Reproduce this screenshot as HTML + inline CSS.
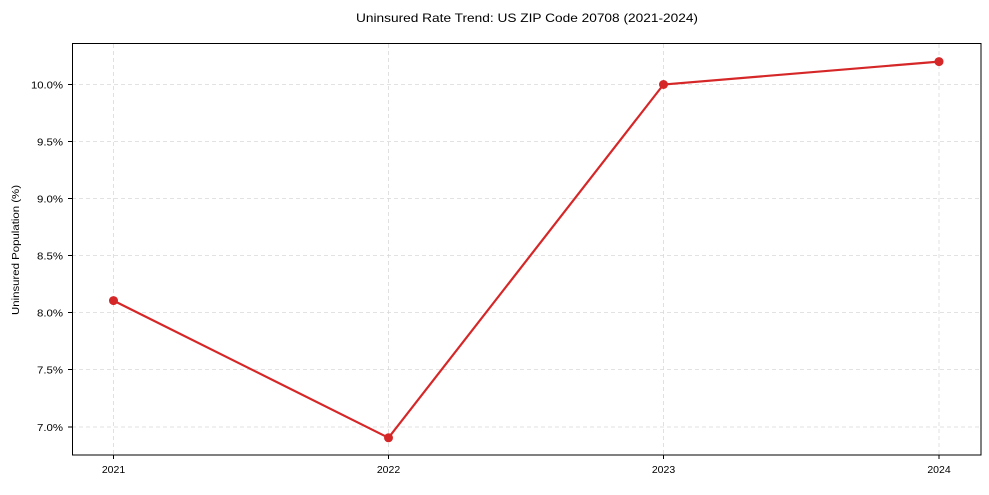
<!DOCTYPE html>
<html><head><style>
body{margin:0;background:#fff;}
svg text{font-family:"Liberation Sans",Arial,sans-serif;fill:#000;}
</style></head><body>
<svg width="989" height="490" xmlns="http://www.w3.org/2000/svg">
<rect width="989" height="490" fill="#fff"/>
<g stroke="#d9d9d9" stroke-width="0.8" stroke-dasharray="4,3">
<line x1="113.5" y1="44" x2="113.5" y2="455"/>
<line x1="388.5" y1="44" x2="388.5" y2="455"/>
<line x1="663.5" y1="44" x2="663.5" y2="455"/>
<line x1="939" y1="44" x2="939" y2="455"/>
<line x1="72" y1="84.5" x2="981" y2="84.5"/>
<line x1="72" y1="141.5" x2="981" y2="141.5"/>
<line x1="72" y1="198.5" x2="981" y2="198.5"/>
<line x1="72" y1="255.5" x2="981" y2="255.5"/>
<line x1="72" y1="312.5" x2="981" y2="312.5"/>
<line x1="72" y1="369.5" x2="981" y2="369.5"/>
<line x1="72" y1="427" x2="981" y2="427"/>
</g>
<polyline points="113.5,300.6 388.5,437.8 663.5,84.5 939,61.6" fill="none" stroke="#d62728" stroke-width="2.2"/>
<g fill="#d62728">
<circle cx="113.5" cy="300.6" r="4.5"/><circle cx="388.5" cy="437.8" r="4.5"/>
<circle cx="663.5" cy="84.5" r="4.5"/><circle cx="939" cy="61.6" r="4.5"/>
</g>
<rect x="72.5" y="43.5" width="908.5" height="411.5" fill="none" stroke="#000" stroke-width="1"/>
<g stroke="#000" stroke-width="1">
<line x1="68" y1="84.5" x2="72" y2="84.5"/><line x1="68" y1="141.5" x2="72" y2="141.5"/>
<line x1="68" y1="198.5" x2="72" y2="198.5"/><line x1="68" y1="255.5" x2="72" y2="255.5"/>
<line x1="68" y1="312.5" x2="72" y2="312.5"/><line x1="68" y1="369.5" x2="72" y2="369.5"/>
<line x1="68" y1="427" x2="72" y2="427"/>
<line x1="113.5" y1="455" x2="113.5" y2="459"/><line x1="388.5" y1="455" x2="388.5" y2="459"/>
<line x1="663.5" y1="455" x2="663.5" y2="459"/><line x1="939" y1="455" x2="939" y2="459"/>
</g>
<g font-size="10.5" text-anchor="end" transform="scale(1,1)">
<text x="63" y="88.5" textLength="32" lengthAdjust="spacingAndGlyphs">10.0%</text>
<text x="63" y="145.5" textLength="26" lengthAdjust="spacingAndGlyphs">9.5%</text>
<text x="63" y="202.5" textLength="26" lengthAdjust="spacingAndGlyphs">9.0%</text>
<text x="63" y="259.5" textLength="26" lengthAdjust="spacingAndGlyphs">8.5%</text>
<text x="63" y="316.5" textLength="26" lengthAdjust="spacingAndGlyphs">8.0%</text>
<text x="63" y="373.5" textLength="26" lengthAdjust="spacingAndGlyphs">7.5%</text>
<text x="63" y="431" textLength="26" lengthAdjust="spacingAndGlyphs">7.0%</text>
</g>
<g font-size="10.5" text-anchor="middle">
<text x="113.5" y="473">2021</text><text x="388.5" y="473">2022</text>
<text x="663.5" y="473">2023</text><text x="939" y="473">2024</text>
</g>
<text x="527" y="22" font-size="12" text-anchor="middle" textLength="342" lengthAdjust="spacingAndGlyphs">Uninsured Rate Trend: US ZIP Code 20708 (2021-2024)</text>
<text transform="translate(19,250) rotate(-90)" font-size="10.5" text-anchor="middle" textLength="130" lengthAdjust="spacingAndGlyphs">Uninsured Population (%)</text>
</svg>
</body></html>
